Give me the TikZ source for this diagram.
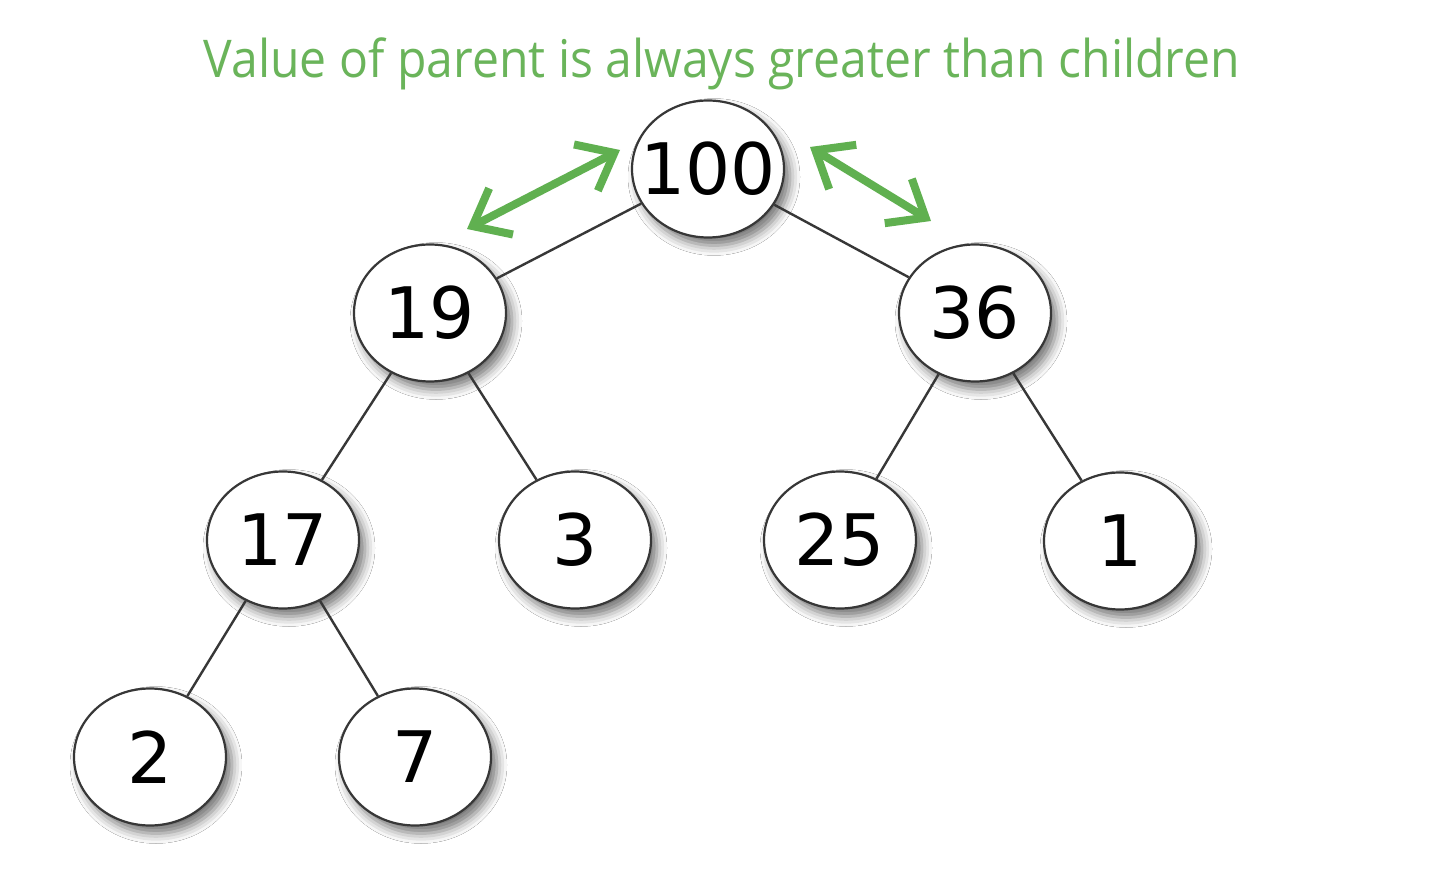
\documentclass[tikz,border=0pt]{standalone}
\usepackage{fontspec}
\newfontfamily\numfont{DejaVu Sans}
\newfontfamily\titlefont{Open Sans}
\usetikzlibrary{shapes.geometric,arrows.meta,shadows.blur}
\definecolor{heapgreen}{RGB}{106,180,90}
\definecolor{arrowgreen}{RGB}{96,176,80}
\definecolor{edgegray}{RGB}{55,55,55}
\newcommand{\hval}[1]{\makebox[0pt][c]{#1}}
\tikzset{
  heapnode/.style={ellipse, draw=edgegray, line width=2.2pt, fill=white,
    minimum width=152pt, minimum height=137pt, inner sep=0pt,
    font=\numfont\fontsize{71}{80}\selectfont,
    blur shadow={shadow xshift=6pt, shadow yshift=-8pt, shadow blur radius=10pt, shadow opacity=55}},
  heapedge/.style={draw=edgegray, line width=2.4pt},
  cmparrow/.style={draw=arrowgreen, line width=8pt,
    {Straight Barb[length=32pt,width=52pt,line width=8pt]}-{Straight Barb[length=32pt,width=52pt,line width=8pt]}}
}
\begin{document}
\begin{tikzpicture}[x=1pt,y=-1pt]
\useasboundingbox (0,0) rectangle (1444,874);
\fill[white] (0,0) rectangle (1444,874);
\node[anchor=base, text=heapgreen, inner sep=0pt, font=\titlefont\fontsize{52}{60}\selectfont] (title) at (722,78) {\scalebox{0.925}[1]{Value of parent is always greater than children}};
\node[heapnode] (n100) at (708,169) {\hval{100}};
\node[heapnode] (n19) at (430,313) {\hval{19}};
\node[heapnode] (n36) at (975,313) {\hval{36}};
\node[heapnode] (n17) at (283,540) {\hval{17}};
\node[heapnode] (n3) at (575,540) {\hval{3}};
\node[heapnode] (n25) at (840,540) {\hval{25}};
\node[heapnode] (n1) at (1120,541) {\hval{1}};
\node[heapnode] (n2) at (150,757) {\hval{2}};
\node[heapnode] (n7) at (415,757) {\hval{7}};
\draw[heapedge] (n100) -- (n19);
\draw[heapedge] (n100) -- (n36);
\draw[heapedge] (n19) -- (n17);
\draw[heapedge] (n19) -- (n3);
\draw[heapedge] (n36) -- (n25);
\draw[heapedge] (n36) -- (n1);
\draw[heapedge] (n17) -- (n2);
\draw[heapedge] (n17) -- (n7);
\coordinate (la1) at (467,229);
\coordinate (la2) at (620,150);
\coordinate (ra1) at (810,147);
\coordinate (ra2) at (931,221);
\draw[cmparrow] (la1) -- (la2);
\draw[cmparrow] (ra1) -- (ra2);
\end{tikzpicture}
\end{document}
